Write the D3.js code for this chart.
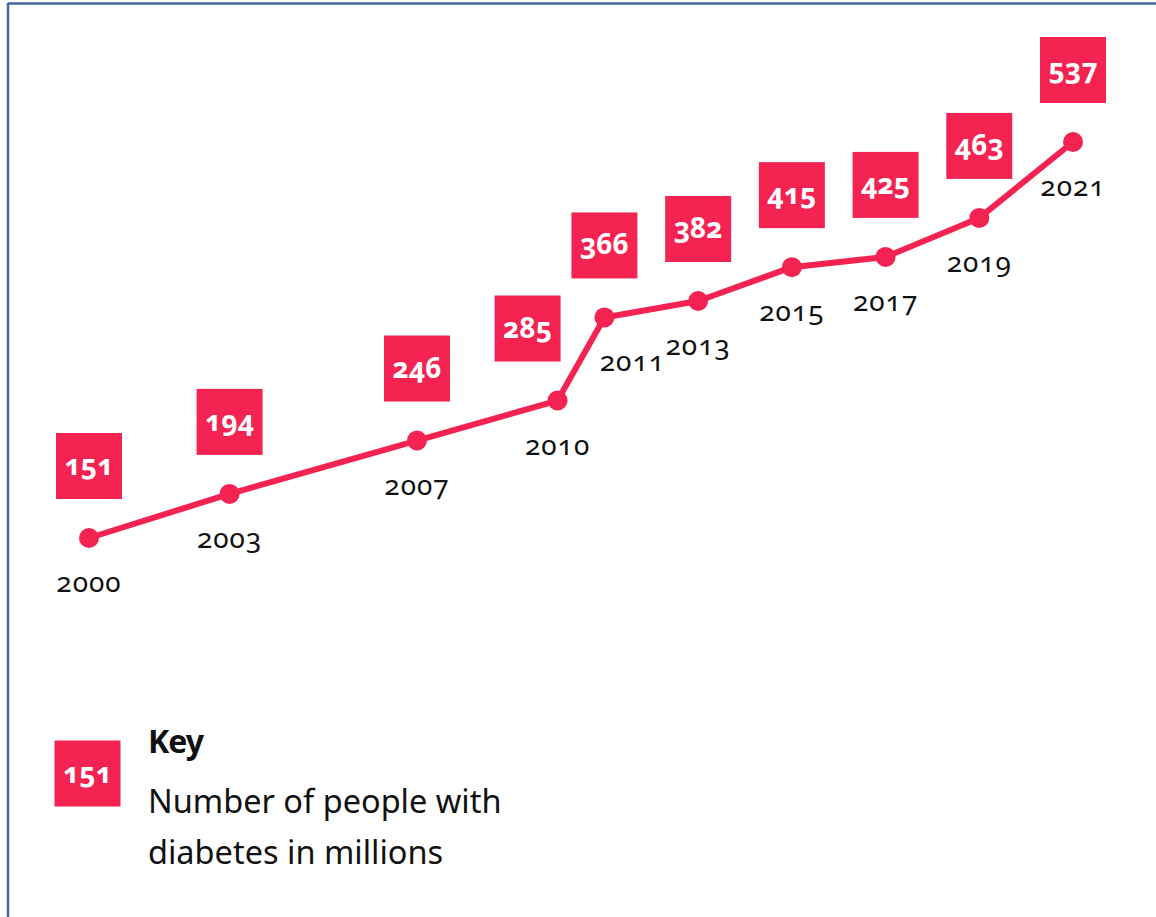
<!DOCTYPE html>
<html>
<head>
<meta charset="utf-8">
<script src="https://cdn.jsdelivr.net/npm/d3@7"></script>
<style>
  html, body { margin: 0; padding: 0; background: #fff; }
  svg { display: block; }
  .num { font-family: "Noto Sans", "Open Sans", sans-serif; font-feature-settings: "onum" 1; }
</style>
</head>
<body>
<svg id="chart" width="1156" height="917"></svg>
<script>
// Global number of adults living with diabetes (millions)
const years = [2000, 2003, 2007, 2010, 2011, 2013, 2015, 2017, 2019, 2021];
const people = [151, 194, 246, 285, 366, 382, 415, 425, 463, 537];
const keyTitle = "Key";
const keyLines = ["Number of people with", "diabetes in millions"];

const RED = "#f52351";
const svg = d3.select("#chart");

// frame lines
svg.append("line").attr("x1", 8).attr("x2", 1156).attr("y1", 3.5).attr("y2", 3.5)
  .attr("stroke", "#4565a3").attr("stroke-width", 2.5);
svg.append("line").attr("x1", 8).attr("x2", 8).attr("y1", 3).attr("y2", 917)
  .attr("stroke", "#4565a3").attr("stroke-width", 2.5);

const x = d3.scaleLinear().domain([2000, 2021]).range([89, 1073]);
const y = d3.scaleLinear().domain([151, 537]).range([538, 142]);

const data = years.map((yr, i) => ({ year: yr, value: people[i] }));

// nudges where labels would collide
const boxShift = { 2010: -30 };
const yearShift = { 2011: 28 };

svg.append("path")
  .datum(data)
  .attr("fill", "none")
  .attr("stroke", RED)
  .attr("stroke-width", 6)
  .attr("stroke-linejoin", "round")
  .attr("d", d3.line().x(d => x(d.year)).y(d => y(d.value)));

svg.selectAll("circle.pt").data(data).join("circle")
  .attr("class", "pt")
  .attr("cx", d => x(d.year)).attr("cy", d => y(d.value)).attr("r", 10)
  .attr("fill", RED);

// year labels below each point
svg.selectAll("text.yr").data(data).join("text")
  .attr("class", "yr num")
  .attr("x", d => x(d.year) + (yearShift[d.year] || 0))
  .attr("y", d => y(d.value) + 54)
  .attr("text-anchor", "middle")
  .attr("font-size", 28)
  .attr("letter-spacing", 1)
  .attr("fill", "#111")
  .text(d => d.year);

// value boxes above each point
const B = 66;
const boxes = svg.selectAll("g.box").data(data).join("g")
  .attr("class", "box")
  .attr("transform", d => `translate(${x(d.year) + (boxShift[d.year] || 0)},${y(d.value) - 72})`);
boxes.append("rect")
  .attr("x", -B / 2).attr("y", -B / 2).attr("width", B).attr("height", B)
  .attr("fill", RED);
boxes.append("text")
  .attr("class", "num")
  .attr("text-anchor", "middle")
  .attr("y", 9)
  .attr("font-size", 28)
  .attr("font-weight", 700)
  .attr("fill", "#fff")
  .text(d => d.value);

// key
const key = svg.append("g").attr("transform", "translate(87.5,773.5)");
key.append("rect").attr("x", -B / 2).attr("y", -B / 2).attr("width", B).attr("height", B).attr("fill", RED);
key.append("text").attr("class", "num").attr("text-anchor", "middle").attr("y", 9)
  .attr("font-size", 28).attr("font-weight", 700).attr("fill", "#fff").text(people[0]);

svg.append("text").attr("x", 148).attr("y", 753)
  .attr("font-family", "'Noto Sans', sans-serif").attr("font-size", 32).attr("font-weight", 700)
  .attr("letter-spacing", -1).attr("fill", "#111").text(keyTitle);
svg.selectAll("text.keyline").data(keyLines).join("text")
  .attr("class", "keyline")
  .attr("x", 148).attr("y", (d, i) => 813 + i * 51)
  .attr("font-family", "'Noto Sans', sans-serif").attr("font-size", 32.5)
  .attr("fill", "#111").text(d => d);
</script>
</body>
</html>
